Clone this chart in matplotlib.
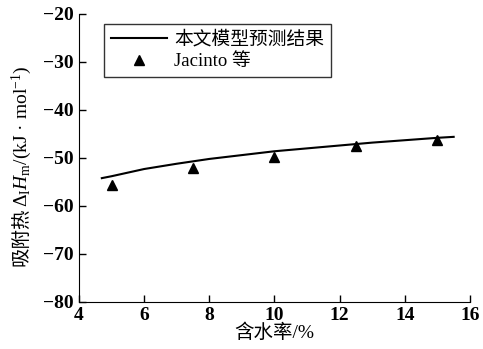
import matplotlib
matplotlib.use("Agg")
import matplotlib.pyplot as plt

plt.rcParams['font.family'] = ['Liberation Serif', 'Noto Sans CJK SC', 'DejaVu Sans']
plt.rcParams['mathtext.fontset'] = 'custom'
plt.rcParams['mathtext.rm'] = 'Liberation Serif'
plt.rcParams['mathtext.it'] = 'Liberation Serif:italic'
plt.rcParams['axes.unicode_minus'] = True

# model curve
model_x = [4.7, 5, 6, 7, 7.5, 8, 9, 10, 11, 12, 12.5, 13, 14, 15, 15.5]
model_y = [-54.2, -53.8, -52.3, -51.2, -50.7, -50.2, -49.4, -48.6, -48.0,
           -47.4, -47.1, -46.8, -46.3, -45.8, -45.6]

# Jacinto data
jac_x = [5, 7.5, 10, 12.5, 15]
jac_y = [-55.6, -52.1, -49.7, -47.5, -46.3]

fig = plt.figure(figsize=(4.83, 3.49), dpi=100)
ax = fig.add_axes([0.1636, 0.1347, 0.8094, 0.8253])

ax.plot(model_x, model_y, color='black', lw=1.5, label='本文模型预测结果')
ax.plot(jac_x, jac_y, ls='none', marker='^', ms=7.5, color='black', label='Jacinto 等')

ax.set_xlim(4, 16)
ax.set_ylim(-80, -20)
ax.set_xticks([4, 6, 8, 10, 12, 14, 16])
ax.set_yticks([-80, -70, -60, -50, -40, -30, -20])

for s in ['top', 'right']:
    ax.spines[s].set_visible(False)
ax.tick_params(direction='in', length=5, width=1, labelsize=14)
ax.tick_params(axis='y', pad=4)
for lab in ax.get_xticklabels() + ax.get_yticklabels():
    lab.set_fontweight('bold')

ax.set_xlabel('含水率/%', fontsize=14, labelpad=0)

# y label: CJK part and math part drawn as two pieces (mathtext has no CJK glyphs)
ylab_x = -0.145
t1 = ax.text(ylab_x, 0.125, '吸附热', transform=ax.transAxes, rotation=90,
             rotation_mode='anchor', ha='left', va='center', fontsize=14)
fig.canvas.draw()
bb = t1.get_window_extent(fig.canvas.get_renderer())
h_axes = bb.height / ax.get_window_extent().height
ax.text(ylab_x, 0.125 + h_axes,
        '$\\Delta_{\\rm I}\\mathit{H}_{\\rm m}$/(kJ · mol$^{-1}$)',
        transform=ax.transAxes, rotation=90, rotation_mode='anchor',
        ha='left', va='center', fontsize=14)

leg = ax.legend(loc='upper left', bbox_to_anchor=(0.064, 0.965), fontsize=13.5,
                frameon=True, fancybox=False, edgecolor='black', handlelength=3,
                borderpad=0.35, labelspacing=0.25, handletextpad=0.4,
                borderaxespad=0)
leg.get_frame().set_linewidth(1.0)

fig.savefig('out.png', dpi=100)
